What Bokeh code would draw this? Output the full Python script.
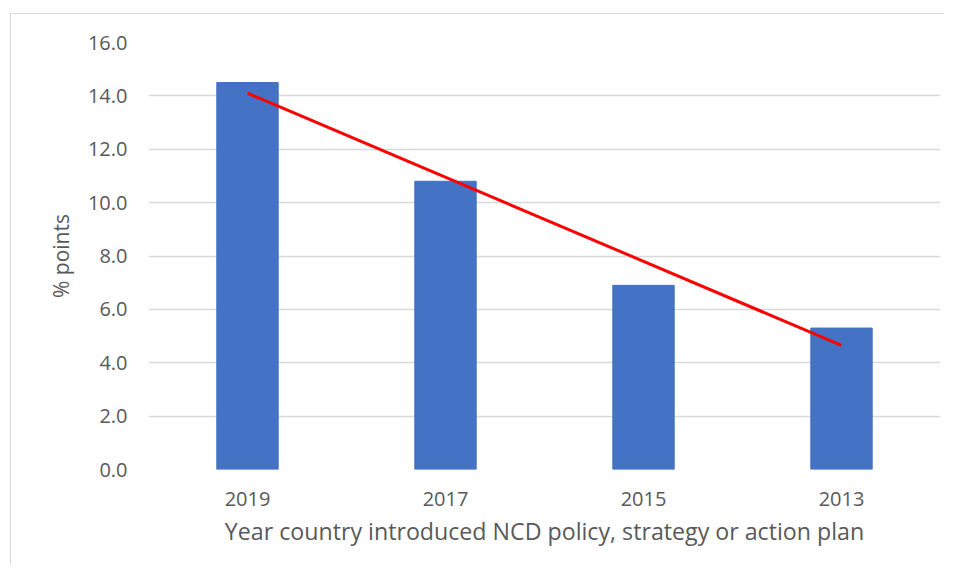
from bokeh.plotting import figure
from bokeh.models import FactorRange, Range1d, NumeralTickFormatter, FixedTicker
from bokeh.embed import file_html
from bokeh.resources import INLINE

# ---- data ----
years = ["2019", "2017", "2015", "2013"]
values = [14.5, 10.8, 6.9, 5.3]
trend_years = ["2019", "2013"]
trend_values = [14.1, 4.65]
y_ticks = [0, 2, 4, 6, 8, 10, 12, 14, 16]

FONT = "Open Sans"
TXT = "#595959"

p = figure(
    x_range=FactorRange(*years, range_padding=0),
    y_range=Range1d(0, 16),
    frame_width=792, frame_height=427,
    min_border_left=137, min_border_right=4,
    min_border_top=28, min_border_bottom=96,
    output_backend="svg", toolbar_location=None,
)
p.styles = {"margin-left": "10px", "margin-top": "13px",
            "border-left": "1px solid #d9d9d9", "border-top": "1px solid #d9d9d9"}

p.vbar(x=years, top=values, width=0.31, fill_color="#4472C4", line_color="#4472C4")
p.line(x=trend_years, y=trend_values, line_color="#FF0000", line_width=3)

p.outline_line_color = None
p.xgrid.grid_line_color = None
p.ygrid.grid_line_color = "#d9d9d9"
p.ygrid.grid_line_width = 1.3

p.yaxis.ticker = FixedTicker(ticks=y_ticks)
p.yaxis.formatter = NumeralTickFormatter(format="0.0")

for ax in (p.xaxis, p.yaxis):
    ax.axis_line_color = None
    ax.major_tick_line_color = None
    ax.minor_tick_line_color = None
    ax.major_label_text_font = FONT
    ax.major_label_text_font_size = "20px"
    ax.major_label_text_color = TXT
    ax.axis_label_text_font = FONT
    ax.axis_label_text_color = TXT
    ax.axis_label_text_font_style = "normal"

p.xaxis.axis_label = "Year country introduced NCD policy, strategy or action plan"
p.yaxis.axis_label = "% points"
p.xaxis.axis_label_text_font_size = "23.2px"
p.yaxis.axis_label_text_font_size = "21px"
p.yaxis.major_label_standoff = 15
p.yaxis.axis_label_standoff = 10
p.xaxis.major_label_standoff = 16
p.xaxis.axis_label_standoff = 6

open("out.html", "w").write(file_html(p, INLINE))
